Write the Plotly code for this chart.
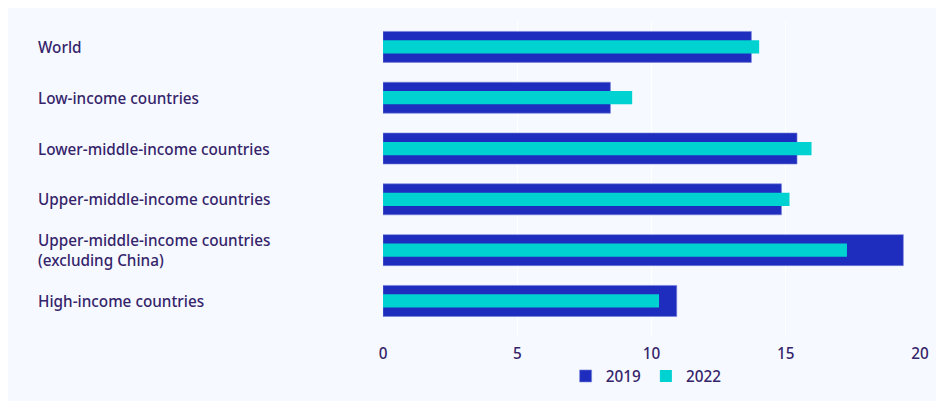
import plotly.graph_objects as go

categories = [
    "World",
    "Low-income countries",
    "Lower-middle-income countries",
    "Upper-middle-income countries",
    "Upper-middle-income countries<br>(excluding China)",
    "High-income countries",
]
values_2019 = [13.72, 8.47, 15.42, 14.84, 19.38, 10.94]
values_2022 = [14.01, 9.28, 15.96, 15.14, 17.28, 10.28]
x_ticks = [0, 5, 10, 15, 20]

TEXT = "#35246a"
C2019 = "#1e2dbd"
C2022 = "#00d1d1"
PANEL = "#f6f9ff"

W, H = 936, 394
L, R, T, B = 375, 24, 13, 66
pw = W - L - R
ph = H - T - B

fig = go.Figure()
fig.add_trace(go.Bar(
    y=list(range(len(categories))), x=values_2019, orientation="h", name="2019",
    marker=dict(color=C2019, line=dict(color="rgba(120,130,220,0.6)", width=1)), width=0.61,
))
fig.add_trace(go.Bar(
    y=list(range(len(categories))), x=values_2022, orientation="h", name="2022",
    marker=dict(color=C2022, line=dict(width=0)), width=0.26,
))

FONT = dict(family="Noto Sans", size=15.3, color=TEXT, weight=500)

annotations = []
for i, c in enumerate(categories):
    annotations.append(dict(
        x=(28 - L) / pw, xref="paper", y=i, yref="y", text=c, showarrow=False,
        xanchor="left", yanchor="middle", align="left", font=FONT,
    ))

fig.update_layout(
    width=W, height=H,
    margin=dict(l=L, r=R, t=T, b=B, autoexpand=False),
    barmode="overlay",
    paper_bgcolor=PANEL,
    plot_bgcolor=PANEL,
    font=FONT,
    xaxis=dict(range=[0, 20], tickvals=x_ticks, showgrid=True, gridcolor="white",
               gridwidth=1, zeroline=False, showline=False, ticks="",
               tickfont=FONT, ticklabelstandoff=7, automargin=False),
    yaxis=dict(range=[5.69, -0.51], showticklabels=False, showgrid=False,
               zeroline=False, showline=False, automargin=False),
    legend=dict(orientation="h", x=0.49, xanchor="center", y=-40 / ph, yanchor="middle",
                bgcolor="rgba(0,0,0,0)", font=FONT, itemwidth=30),
    annotations=annotations,
    showlegend=True,
)

fig.write_html("out.html")
